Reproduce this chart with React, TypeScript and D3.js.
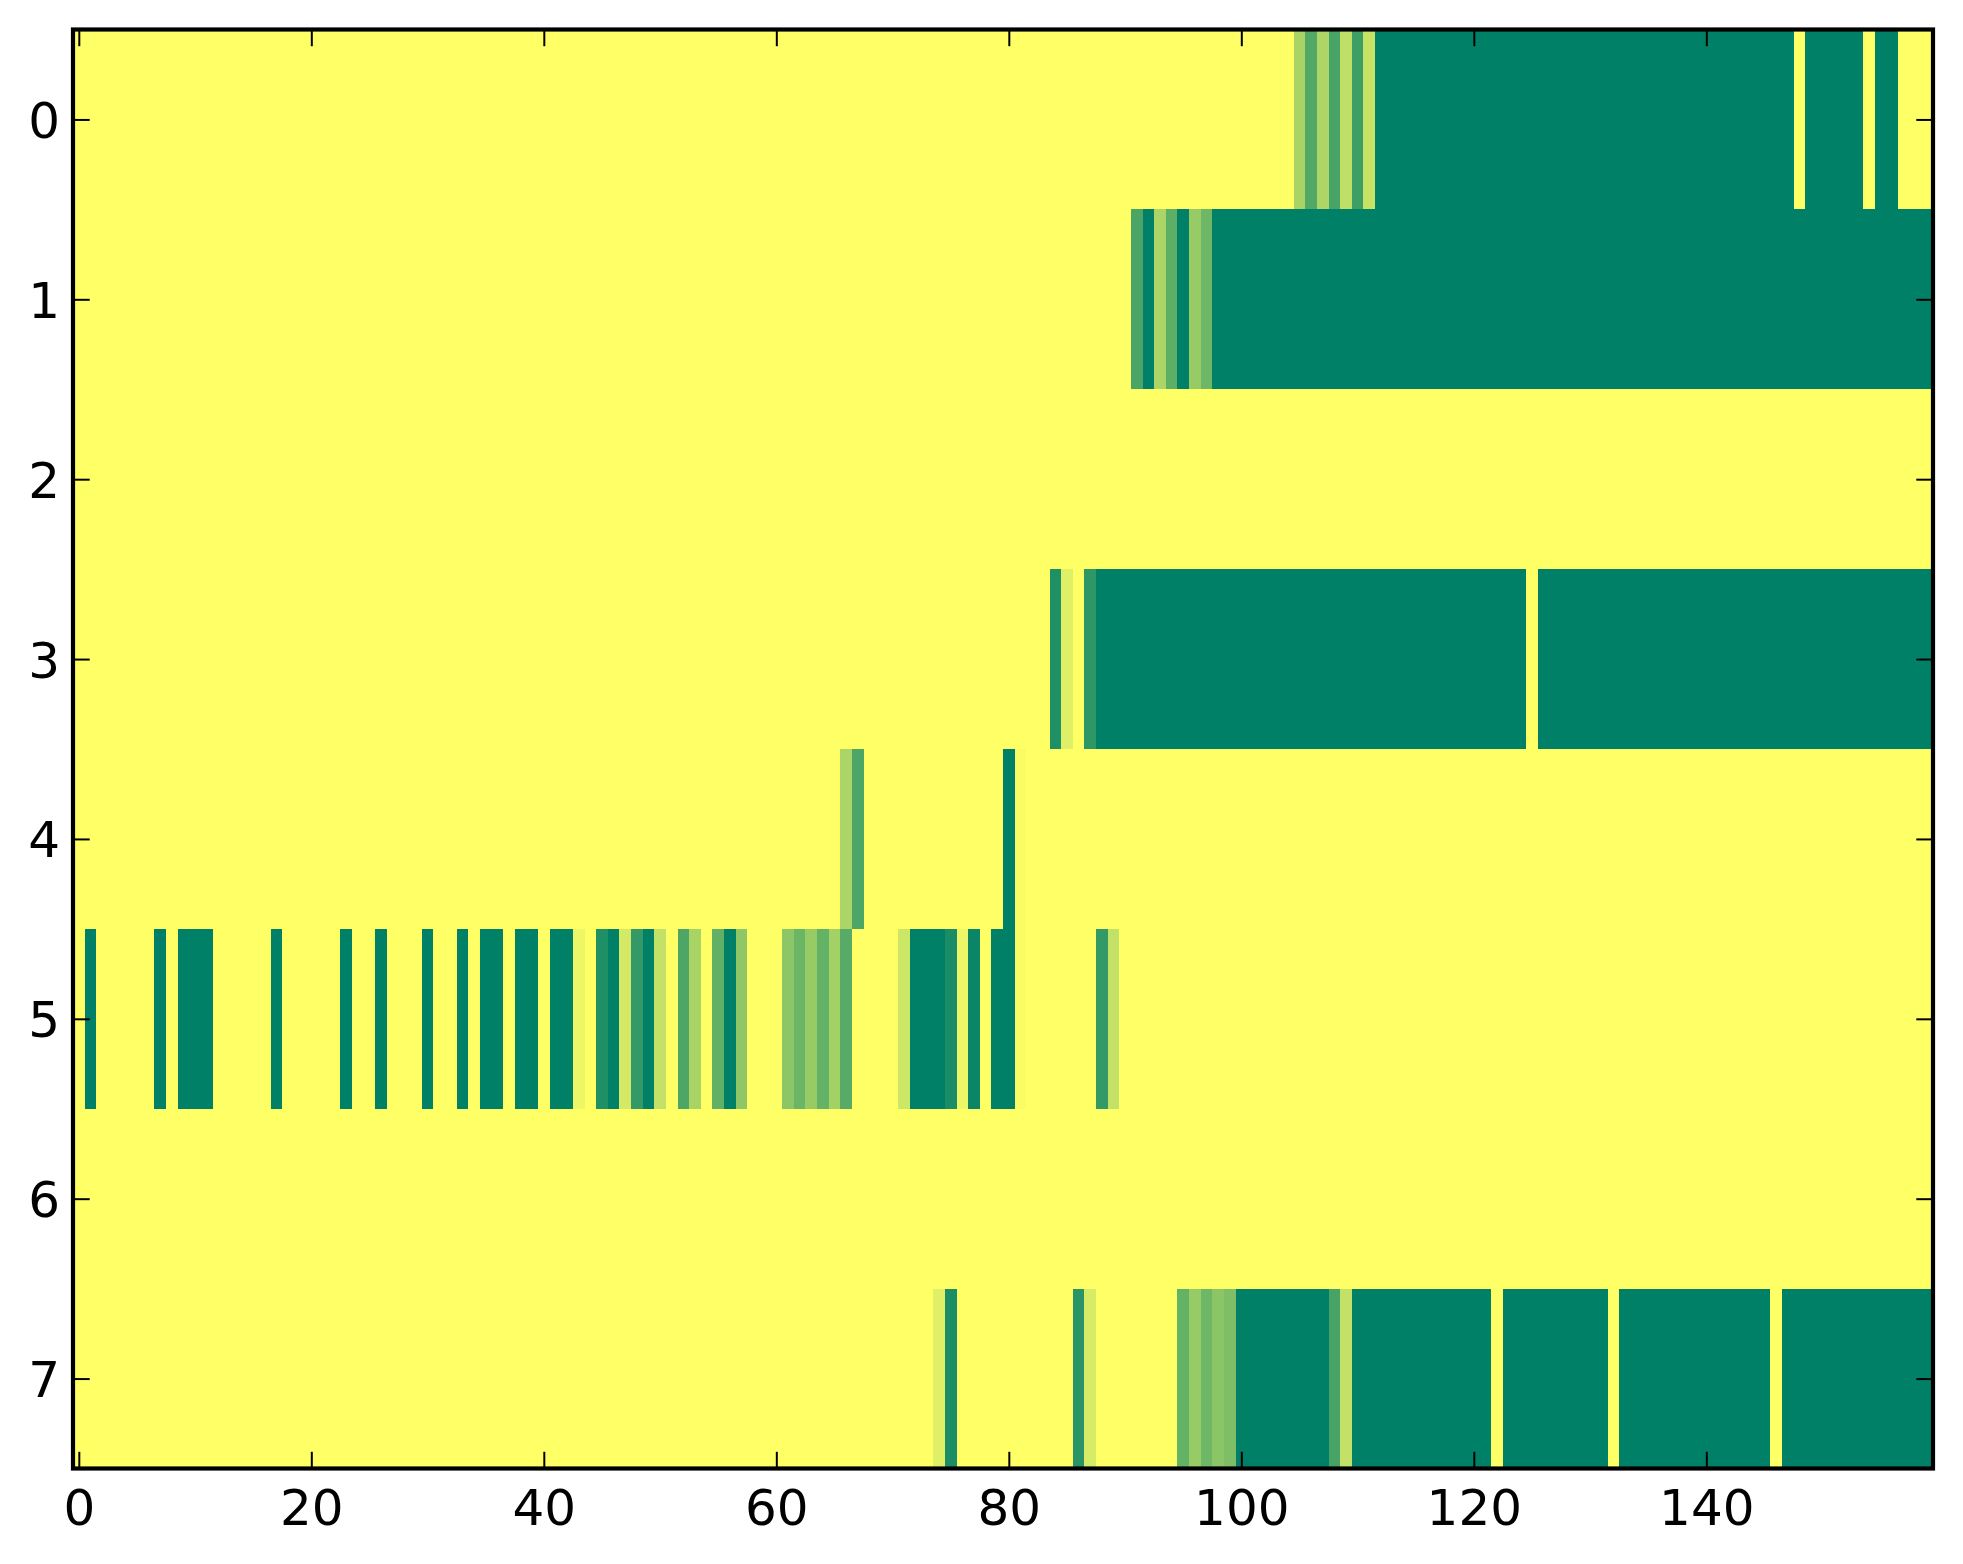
import React, { useEffect, useRef } from "react";
import * as d3 from "d3";

// each row: runs of [firstCol, lastCol, level]; level 0 = yellow, 1 = dark green
const nCols = 160;
const rowLabels = [0, 1, 2, 3, 4, 5, 6, 7];
const xTicks = [0, 20, 40, 60, 80, 100, 120, 140];

const row0: [number, number, number][] = [
  [105, 105, 0.34], [106, 106, 0.68], [107, 107, 0.32], [108, 108, 0.72],
  [109, 109, 0.25], [110, 110, 0.76], [111, 111, 0.22], [112, 147, 1],
  [149, 153, 1], [155, 156, 1],
];
const row1: [number, number, number][] = [
  [91, 91, 0.71], [92, 92, 1], [93, 93, 0.33], [94, 94, 0.63], [95, 95, 1],
  [96, 96, 0.41], [97, 97, 0.57], [98, 159, 1],
];
const row2: [number, number, number][] = [];
const row3: [number, number, number][] = [
  [84, 84, 0.88], [85, 85, 0.12], [87, 87, 0.82], [88, 124, 1], [126, 159, 1],
];
const row4: [number, number, number][] = [
  [66, 66, 0.33], [67, 67, 0.7], [80, 80, 1], [81, 81, 0.02],
];
const row5: [number, number, number][] = [
  [1, 1, 1], [7, 7, 1], [9, 11, 1], [17, 17, 1], [23, 23, 1], [26, 26, 1],
  [30, 30, 1], [33, 33, 1], [35, 36, 1], [38, 39, 1], [41, 42, 1],
  [43, 43, 0.07], [45, 45, 0.88], [46, 46, 1], [47, 47, 0.17], [48, 48, 0.8],
  [49, 49, 1], [50, 50, 0.24], [52, 52, 0.7], [53, 53, 0.34], [55, 55, 0.62],
  [56, 56, 1], [57, 57, 0.44], [61, 61, 0.45], [62, 62, 0.58], [63, 63, 0.41],
  [64, 64, 0.61], [65, 65, 0.36], [66, 66, 0.66], [71, 71, 0.2], [72, 74, 1],
  [75, 75, 0.9], [76, 76, 0.07], [77, 77, 0.96], [79, 80, 1], [81, 81, 0.02],
  [88, 88, 0.8], [89, 89, 0.24],
];
const row6: [number, number, number][] = [];
const row7: [number, number, number][] = [
  [74, 74, 0.12], [75, 75, 0.89], [86, 86, 0.84], [87, 87, 0.16],
  [95, 95, 0.61], [96, 96, 0.41], [97, 97, 0.57], [98, 98, 0.46],
  [99, 99, 0.51], [100, 107, 1], [108, 108, 0.72], [109, 109, 0.24],
  [110, 121, 1], [123, 131, 1], [133, 145, 1], [147, 159, 1],
];
const rows = [row0, row1, row2, row3, row4, row5, row6, row7];

const App: React.FC = () => {
  const svgRef = useRef<any>();

  useEffect(() => {
    document.body.style.margin = "0";
    const width = 1963;
    const height = 1564;
    const left = 73, right = 1933, top = 29.5, bottom = 1468.5;
    const tickLen = 16.7;

    const x = d3.scaleLinear().domain([-0.5, nCols - 0.5]).range([left, right]);
    const y = d3
      .scaleLinear()
      .domain([-0.5, rowLabels.length - 0.5])
      .range([top, bottom]);
    const color = d3
      .scaleLinear<string>()
      .domain([0, 1])
      .range(["#ffff66", "#008066"])
      .interpolate(d3.interpolateRgb);

    // full grid, cells not listed in a row's runs are level 0
    const cells: { r: number; c: number; v: number }[] = [];
    rows.forEach((runs, r) => {
      const vals = new Array(nCols).fill(0);
      runs.forEach(([a, b, v]) => {
        for (let c = a; c <= b; c++) vals[c] = v;
      });
      vals.forEach((v, c) => cells.push({ r, c, v }));
    });

    const svg = d3
      .select(svgRef.current)
      .attr("width", width)
      .attr("height", height)
      .style("display", "block")
      .style("background", "white");
    svg.selectAll("*").remove();

    svg
      .append("g")
      .attr("shape-rendering", "crispEdges")
      .selectAll("rect")
      .data(cells)
      .join("rect")
      .attr("x", (d) => x(d.c - 0.5))
      .attr("y", (d) => y(d.r - 0.5))
      .attr("width", (d) => x(d.c + 0.5) - x(d.c - 0.5) + 0.5)
      .attr("height", (d) => y(d.r + 0.5) - y(d.r - 0.5) + 0.5)
      .attr("fill", (d) => color(d.v));

    const styleAxis = (g: any) => {
      g.select(".domain").remove();
      g.selectAll(".tick line").attr("stroke", "#000").attr("stroke-width", 2);
      g.attr("font-family", "DejaVu Sans")
        .attr("font-size", 50)
        .selectAll("text")
        .attr("fill", "#000");
    };

    svg
      .append("g")
      .attr("transform", `translate(0,${bottom})`)
      .call(d3.axisBottom(x).tickValues(xTicks).tickSize(-tickLen).tickPadding(21).tickFormat(d3.format("d")))
      .call(styleAxis);
    svg
      .append("g")
      .attr("transform", `translate(0,${top})`)
      .call(d3.axisTop(x).tickValues(xTicks).tickSize(-tickLen).tickFormat(() => ""))
      .call(styleAxis);
    svg
      .append("g")
      .attr("transform", `translate(${left},0)`)
      .call(d3.axisLeft(y).tickValues(rowLabels).tickSize(-tickLen).tickPadding(13).tickFormat(d3.format("d")))
      .call(styleAxis)
      .selectAll("text")
      .attr("dy", "0.36em");
    svg
      .append("g")
      .attr("transform", `translate(${right},0)`)
      .call(d3.axisRight(y).tickValues(rowLabels).tickSize(-tickLen).tickFormat(() => ""))
      .call(styleAxis);

    svg
      .append("rect")
      .attr("x", left)
      .attr("y", top)
      .attr("width", right - left)
      .attr("height", bottom - top)
      .attr("fill", "none")
      .attr("stroke", "#000")
      .attr("stroke-width", 4.2);
  }, []);

  return <svg ref={svgRef}></svg>;
};

export default App;
